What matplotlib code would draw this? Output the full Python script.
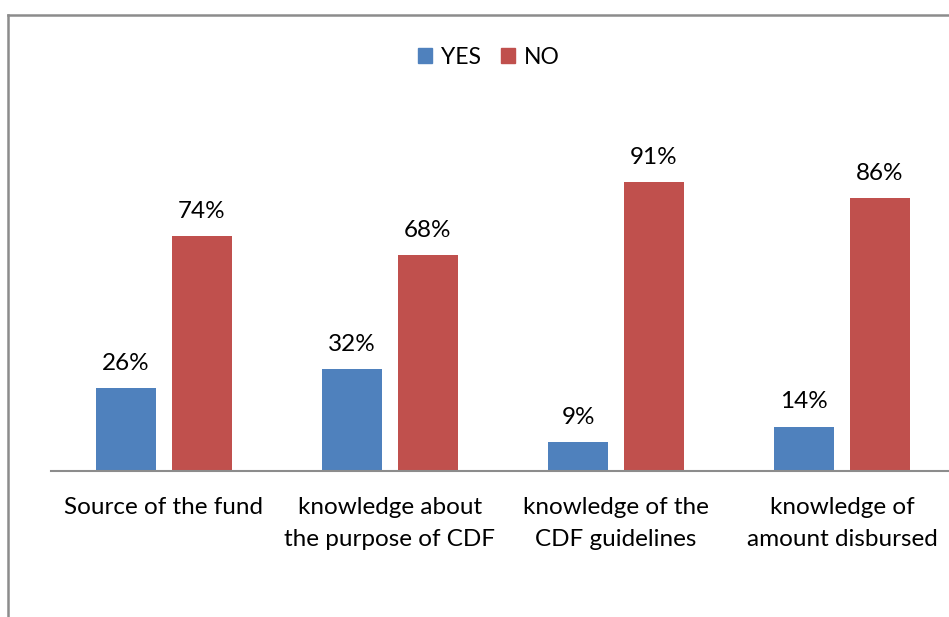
import matplotlib
matplotlib.use("Agg")
import matplotlib.pyplot as plt
import numpy as np
from matplotlib.lines import Line2D
from matplotlib.patches import Patch

categories = ["Source of the fund", "knowledge about\nthe purpose of CDF",
              "knowledge of the\nCDF guidelines", "knowledge of\namount disbursed"]
yes_vals = [26, 32, 9, 14]
no_vals = [74, 68, 91, 86]
yes_labels = ["26%", "32%", "9%", "14%"]
no_labels = ["74%", "68%", "91%", "86%"]

plt.rcParams['font.family'] = ['Lato', 'DejaVu Sans']

W, H = 949, 617
fig = plt.figure(figsize=(W / 100, H / 100), dpi=100)
fig.patch.set_facecolor("white")

ax_left = 51 / W
ax_right = 955 / W
ax_bottom = 1 - 471 / H
ymax = 100
ax_top = 1 - (471 - 289 / 91 * ymax) / H
ax = fig.add_axes([ax_left, ax_bottom, ax_right - ax_left, ax_top - ax_bottom])

x = np.arange(len(categories))
bw = 0.2655
off = 0.168
blue = "#4F81BD"
red = "#C0504D"
ax.bar(x - off, yes_vals, bw, color=blue)
ax.bar(x + off, no_vals, bw, color=red)

fs = 17.5
for xi, v, lab in zip(x, yes_vals, yes_labels):
    ax.text(xi - off, v + 4.5, lab, ha="center", va="bottom", fontsize=fs, color="black")
for xi, v, lab in zip(x, no_vals, no_labels):
    ax.text(xi + off, v + 4.5, lab, ha="center", va="bottom", fontsize=fs, color="black")

ax.set_xlim(-0.5, len(categories) - 0.5)
ax.set_ylim(0, ymax)
ax.set_xticks(x)
ax.set_xticklabels(categories, fontsize=fs, linespacing=1.62)
ax.tick_params(axis="x", length=0, pad=19)
ax.set_yticks([])
for s in ["top", "right", "left"]:
    ax.spines[s].set_visible(False)
ax.spines["bottom"].set_color("#8C8C8C")
ax.spines["bottom"].set_linewidth(1.5)
ax.patch.set_alpha(0)

handles = [Patch(color=blue, label="YES"), Patch(color=red, label="NO")]
fig.legend(handles=handles, loc="center", bbox_to_anchor=(489 / W, 1 - 57 / H), ncol=2,
           frameon=False, fontsize=16.5, handlelength=0.6, handleheight=0.6,
           handletextpad=0.4, columnspacing=0.9)

# outer border (left and top visible)
fig.add_artist(Line2D([8 / W, 8 / W], [0, 1 - 15 / H], color="#8C8C8C", lw=1.8,
                      transform=fig.transFigure))
fig.add_artist(Line2D([8 / W, 1], [1 - 15 / H, 1 - 15 / H], color="#8C8C8C", lw=1.8,
                      transform=fig.transFigure))

fig.savefig("out.png", dpi=100, facecolor="white")
